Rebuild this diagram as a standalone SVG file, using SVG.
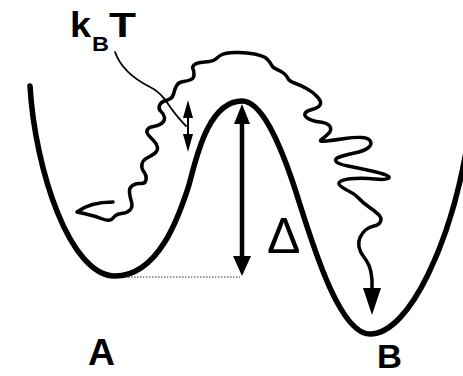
<svg xmlns="http://www.w3.org/2000/svg" width="463" height="376" viewBox="0 0 463 376">
<style>
.curve{fill:none;stroke:#000;stroke-width:5.5;stroke-linecap:round;stroke-linejoin:round}
.wave{fill:none;stroke:#000;stroke-width:3.5;stroke-linecap:round;stroke-linejoin:round}
.thin{fill:none;stroke:#000;stroke-width:1.8;stroke-linecap:round}
.head{fill:#000;stroke:none}
.lbl{font-family:"Liberation Sans",Arial,sans-serif;fill:#000}
</style>
<rect width="463" height="376" fill="#fff"/>
<g id="potential">
<path class="curve" d="M30,86 C35,170 70,276 115,276 C160,276 180,212 188,188 C194,170 205,101 242,101 C262,101 280,145 292,180 C305,217 335,334 370,334 C410,334 452,240 468,140"/>
<path d="M125,277 H240" fill="none" stroke="#333" stroke-width="1.2" stroke-dasharray="1.5,1.5"/>
</g>
<g id="trajectory">
<path class="wave" d="M113,202 Q90,202 77,212 L86,214 Q95,216 102.5,219 Q110,222 113,218 Q116,214 121.5,213.5 Q127,213 130,210 Q133,207 131.5,202 Q130,197 129.5,192.5 Q129,188 132.5,185.5 Q136,183 140.5,183.5 Q145,184 146,180 Q147,176 144,172 Q141,168 142,164 Q143,160 147,158 Q151,156 154.5,153.5 Q158,151 157.5,147.5 Q157,144 153.5,140.5 Q150,137 148,134.5 Q146,132 147.5,129.5 Q149,127 153.5,126.5 Q158,126 161.5,123.5 Q165,121 164.5,117.5 Q164,114 161,111.5 Q158,109 159.5,105.5 Q161,102 164.5,101 Q168,100 170.5,98.5 Q173,97 174,92.5 Q175,88 177,85 Q179,82 183.5,81.5 Q188,81 191,79.5 Q194,78 194,74.5 Q194,71 193,69 Q192,67 194,65 Q196,63 200.5,62.5 Q205,62 209.5,61.5 Q214,61 216.5,58.5 Q219,56 222,54.5 Q225,53 235,52.5 Q245,52 254.5,54 Q264,56 267,59 Q270,62 271.5,65 Q273,68 277,69.5 Q281,71 284,73.5 Q287,76 288,78.5 Q289,81 294.5,83 Q300,85 306.5,88.5 Q313,92 317.5,97 Q322,102 320,105 Q318,108 312,109.5 Q306,111 305,113.5 Q304,116 308,118.5 Q312,121 320,122 Q328,123 330,126.5 Q332,130 328.5,133.5 Q325,137 321.5,139.5 Q318,142 326.5,141 Q335,140 345,138.5 Q355,137 362,137.5 Q369,138 370.5,141.5 Q372,145 368,148 Q364,151 354.5,153 Q345,155 339.5,157 Q334,159 336,161.5 Q338,164 348,166 Q358,168 369.5,170.5 Q381,173 386,175 Q391,177 388,178.5 Q385,180 375,179 Q365,178 355,178.5 Q345,179 341,181 Q337,183 340.5,186 Q344,189 349.5,191.5 Q355,194 359,198.5 Q363,203 369,207 Q375,211 378.5,214.5 Q382,218 380.5,221.5 Q379,225 374,226 Q369,227 365.5,230 Q362,233 360,237.5 Q358,242 359,247 Q360,252 363.5,256.5 Q367,261 369,265.5 Q371,270 372,280 L372,292"/>
<polygon class="head" points="363,288 381,288 372,315"/>
</g>
<g id="connectors">
<path class="thin" d="M115,52 C120,66 132,78 150,87 C160,92 162,96 166,101 C172,110 178,118 186,126"/>
<line x1="242" y1="120" x2="242" y2="260" stroke="#000" stroke-width="4.5"/>
<polygon class="head" points="242,104 234,124 250,124"/>
<polygon class="head" points="242,276 233,256 251,256"/>
<line x1="188" y1="114" x2="188" y2="138" stroke="#000" stroke-width="2"/>
<polygon class="head" points="188,100 183,118 193,118"/>
<polygon class="head" points="188,152 183,134 193,134"/>
</g>
<g id="labels">
<text class="lbl" x="70" y="37" font-size="35" font-weight="bold" textLength="21" lengthAdjust="spacingAndGlyphs">k</text>
<text class="lbl" x="92" y="51" font-size="21" font-weight="bold" textLength="17" lengthAdjust="spacingAndGlyphs">B</text>
<text class="lbl" x="109" y="37" font-size="35" font-weight="bold" textLength="27" lengthAdjust="spacingAndGlyphs">T</text>
<text class="lbl" x="267" y="253" font-size="50">Δ</text>
<text class="lbl" x="88" y="365" font-size="37" font-weight="bold" textLength="27" lengthAdjust="spacingAndGlyphs">A</text>
<text class="lbl" x="377" y="368" font-size="33" font-weight="bold" textLength="25" lengthAdjust="spacingAndGlyphs">B</text>
</g>
</svg>
